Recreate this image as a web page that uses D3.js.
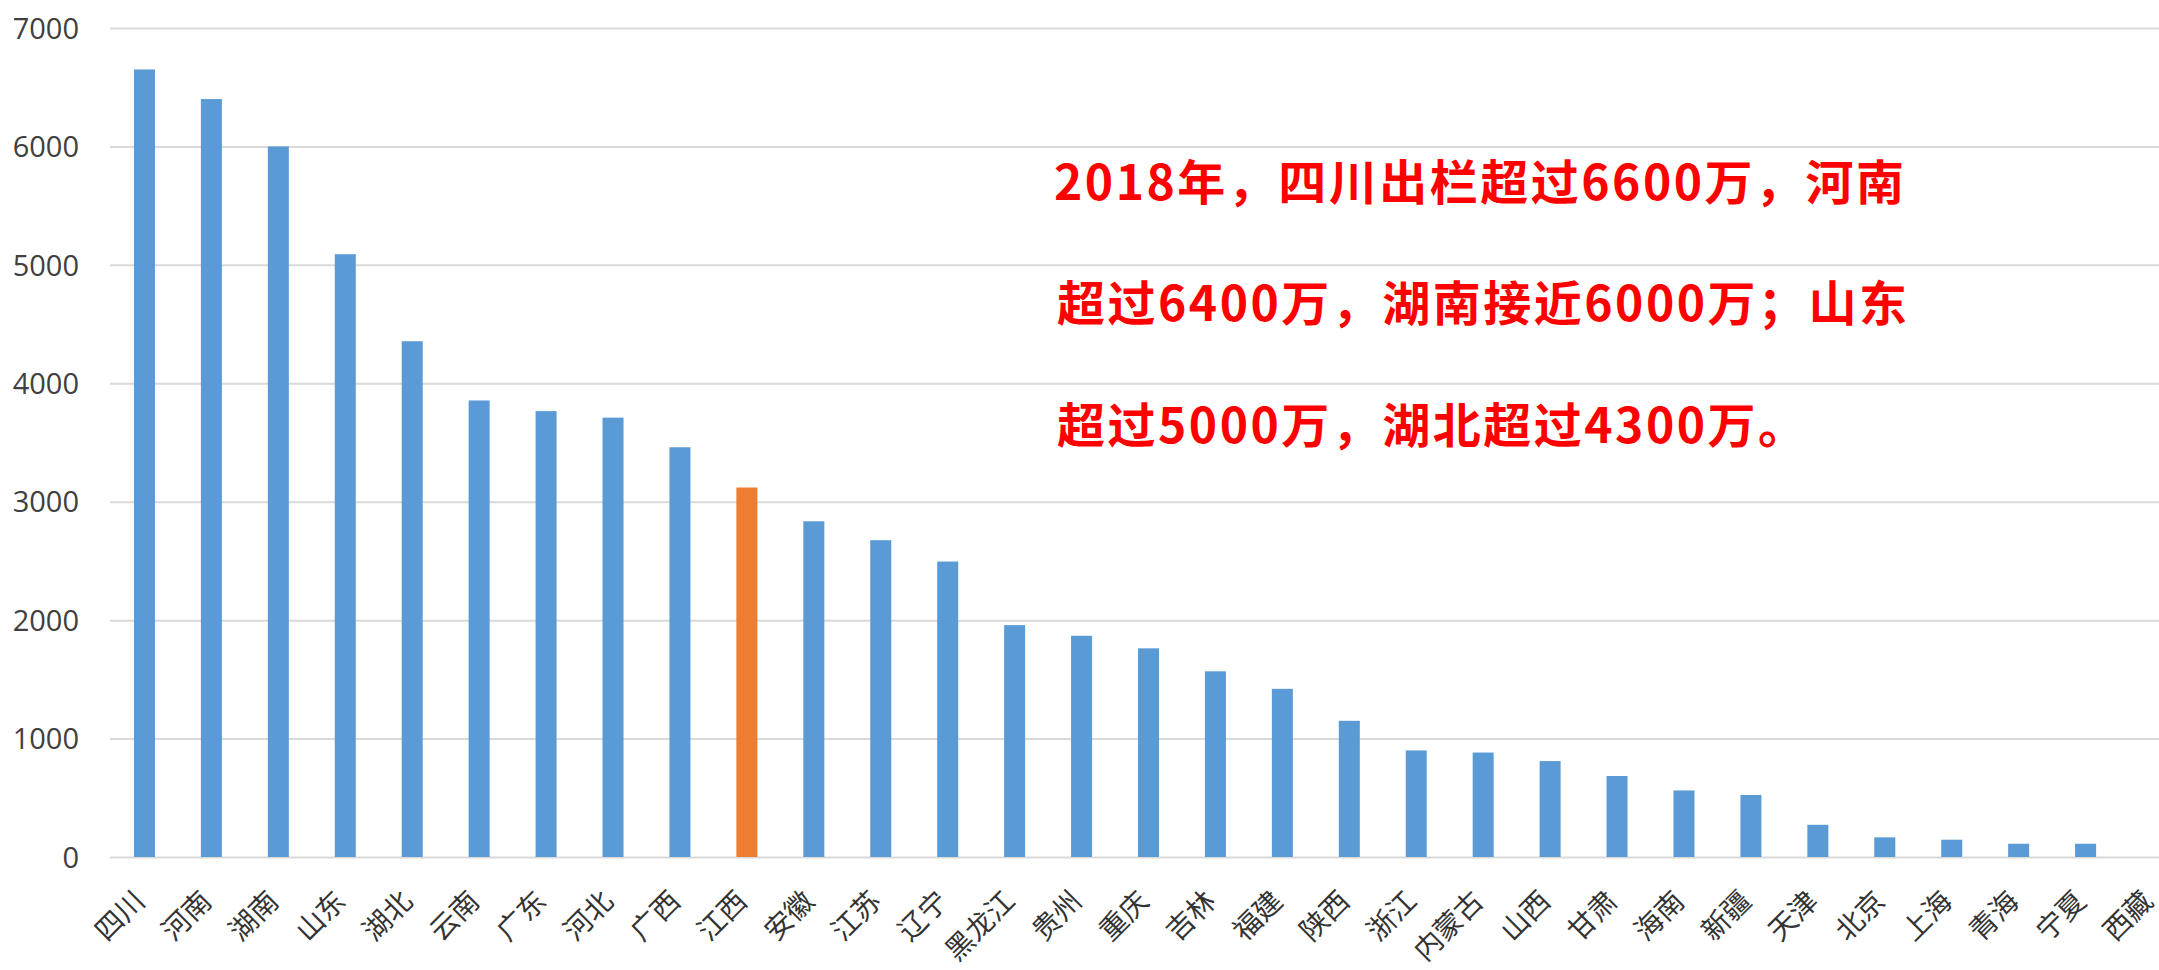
<!DOCTYPE html>
<html>
  <head>
    <meta charset="utf-8">
    <title>2018 各省生猪出栏</title>
    <script src="https://d3js.org/d3.v7.min.js"></script>
    <style>
      body {
        margin: 0;
        background: #ffffff;
      }
      .axis .tick line {
        stroke: #d9d9d9;
        stroke-width: 2px;
      }
      .axis .domain {
        display: none;
      }
      .axis--y .tick text {
        font-family: "Open Sans", "Noto Sans", sans-serif;
        font-size: 29px;
        fill: #404040;
      }
      .axis--x .tick text {
        font-family: "Noto Sans CJK SC", sans-serif;
        font-size: 28px;
        fill: #333333;
      }
      .note {
        font-family: "Noto Sans CJK SC", sans-serif;
        font-size: 48px;
        font-weight: 700;
        letter-spacing: 2.5px;
        fill: #ff0000;
      }
    </style>
  </head>
  <body>
    <svg width="2159" height="970"></svg>
    <script>
      // provinces, sorted by 2018 output (万头)
      const provinces = ["四川", "河南", "湖南", "山东", "湖北", "云南", "广东", "河北", "广西", "江西",
        "安徽", "江苏", "辽宁", "黑龙江", "贵州", "重庆", "吉林", "福建", "陕西", "浙江",
        "内蒙古", "山西", "甘肃", "海南", "新疆", "天津", "北京", "上海", "青海", "宁夏", "西藏"];
      const values = [6650, 6400, 6000, 5090, 4355, 3855, 3765, 3710, 3460, 3120,
        2835, 2675, 2495, 1958, 1868, 1762, 1568, 1420, 1150, 900,
        882, 810, 684, 562, 524, 272, 166, 146, 112, 112, 0];
      const highlight = "江西";
      const yTicks = [0, 1000, 2000, 3000, 4000, 5000, 6000, 7000];
      const noteLines = [
        "2018年，四川出栏超过6600万，河南",
        "超过6400万，湖南接近6000万；山东",
        "超过5000万，湖北超过4300万。"
      ];

      const barColor = "#5b9bd5";
      const highlightColor = "#ed7d31";

      const plotLeft = 110;
      const plotRight = 2186;
      const plotTop = 28;
      const plotBottom = 857;

      const svg = d3.select("svg");
      const width = +svg.attr("width");

      const data = provinces.map((p, i) => ({name: p, value: values[i]}));

      const xScale = d3.scaleBand()
        .domain(provinces)
        .range([plotLeft + 1, plotRight])
        .paddingInner(0.686)
        .paddingOuter(0.343);
      const yScale = d3.scaleLinear()
        .domain([0, 7000])
        .range([plotBottom, plotTop]);

      const yAxis = d3.axisLeft(yScale)
        .tickValues(yTicks)
        .tickFormat(d3.format("d"))
        .tickSizeInner(-(width - plotLeft))
        .tickSizeOuter(0)
        .tickPadding(31);

      const xAxis = d3.axisBottom(xScale)
        .tickSize(0);

      const yAxisG = svg.append("g")
          .attr("class", "axis axis--y")
          .attr("transform", `translate(${plotLeft}, 0)`)
          .call(yAxis);
      yAxisG.selectAll(".tick text").attr("dy", "0.35em");

      svg.append("g")
        .selectAll("rect")
        .data(data)
        .join("rect")
          .attr("x", d => xScale(d.name))
          .attr("width", xScale.bandwidth())
          .attr("y", d => yScale(d.value))
          .attr("height", d => yScale(0) - yScale(d.value))
          .attr("fill", d => d.name === highlight ? highlightColor : barColor);

      const xAxisG = svg.append("g")
          .attr("class", "axis axis--x")
          .attr("transform", `translate(0, ${plotBottom})`)
          .call(xAxis);
      xAxisG.selectAll(".tick text")
          .attr("x", 0)
          .attr("y", 0)
          .attr("dy", 0)
          .attr("text-anchor", "end")
          .attr("transform", "translate(2, 46) rotate(-45)");

      const noteX = 1054;
      const noteY = [200, 321, 443];
      svg.append("g")
        .selectAll("text")
        .data(noteLines)
        .join("text")
          .attr("class", "note")
          .attr("x", (d, i) => i === 0 ? noteX : noteX + 3)
          .attr("y", (d, i) => noteY[i])
          .text(d => d);
    </script>
  </body>
</html>
